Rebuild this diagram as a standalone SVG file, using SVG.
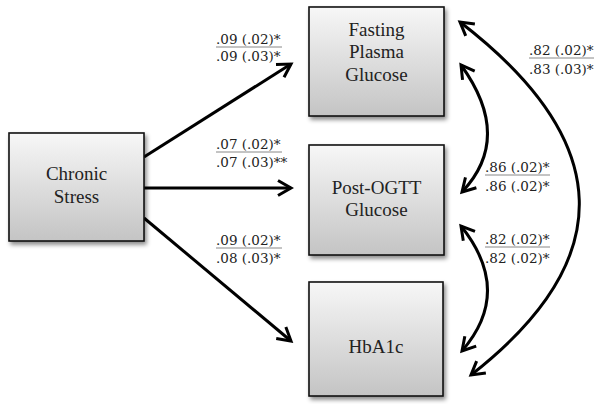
<svg xmlns="http://www.w3.org/2000/svg" width="600" height="404" viewBox="0 0 600 404">
<style>
.box{fill:url(#g);stroke:#111;stroke-width:1.6;filter:url(#sh)}
.nt{font-family:"Liberation Serif","DejaVu Serif",serif;font-size:19px;fill:#222;text-anchor:middle}
.lb{font-family:"DejaVu Serif","Liberation Serif",serif;font-size:13.5px;fill:#222}
.bar{stroke:#888;stroke-width:1}
.ar{fill:none;stroke:#000;stroke-width:3}
.ar.s{marker-end:url(#ah)}
.ar.d{marker-start:url(#ah);marker-end:url(#ah)}
</style>
<defs>
<linearGradient id="g" x1="0" y1="0" x2="0" y2="1">
<stop offset="0" stop-color="#f7f7f7"/>
<stop offset="1" stop-color="#c4c4c4"/>
</linearGradient>
<filter id="sh" x="-10%" y="-10%" width="125%" height="125%">
<feDropShadow dx="2" dy="3" stdDeviation="2" flood-color="#000" flood-opacity="0.45"/>
</filter>
<marker id="ah" markerUnits="userSpaceOnUse" viewBox="-16 -10 20 20" refX="0" refY="0" markerWidth="20" markerHeight="20" orient="auto-start-reverse">
<path d="M-13,-7.5 L0,0 L-13,7.5" fill="none" stroke="#000" stroke-width="3" stroke-linejoin="miter"/>
</marker>
</defs>
<rect width="600" height="404" fill="#fff"/>
<g id="connectors">
<line class="ar s" x1="144" y1="157" x2="291" y2="64"/>
<line class="ar s" x1="144" y1="188" x2="291" y2="188"/>
<line class="ar s" x1="144" y1="218" x2="291" y2="341"/>
<path class="ar d" d="M460,22 Q693,201.5 471,375"/>
<path class="ar d" d="M461,65 Q513.5,137.5 462,192"/>
<path class="ar d" d="M461,226 Q513.5,291.5 462,351"/>
</g>
<g id="chronic-stress">
<rect class="box" x="9" y="133" width="135" height="108"/>
<text class="nt" x="76.5" y="180">Chronic</text>
<text class="nt" x="76.5" y="203">Stress</text>
</g>
<g id="fasting-plasma-glucose">
<rect class="box" x="309" y="7" width="135" height="109"/>
<text class="nt" x="376.5" y="36">Fasting</text>
<text class="nt" x="376.5" y="58">Plasma</text>
<text class="nt" x="376.5" y="81">Glucose</text>
</g>
<g id="post-ogtt-glucose">
<rect class="box" x="309" y="145" width="135" height="110"/>
<text class="nt" x="376.5" y="194">Post-OGTT</text>
<text class="nt" x="376.5" y="216">Glucose</text>
</g>
<g id="hba1c">
<rect class="box" x="309" y="282" width="134" height="114"/>
<text class="nt" x="376" y="353">HbA1c</text>
</g>
<g id="labels">
<text class="lb" x="216" y="44">.09 (.02)*</text>
<line class="bar" x1="216" y1="47" x2="282" y2="47"/>
<text class="lb" x="216" y="61">.09 (.03)*</text>
<text class="lb" x="216" y="149">.07 (.02)*</text>
<line class="bar" x1="216" y1="152" x2="282" y2="152"/>
<text class="lb" x="216" y="167">.07 (.03)**</text>
<text class="lb" x="216" y="245">.09 (.02)*</text>
<line class="bar" x1="216" y1="248" x2="282" y2="248"/>
<text class="lb" x="216" y="263">.08 (.03)*</text>
<text class="lb" x="529" y="55">.82 (.02)*</text>
<line class="bar" x1="529" y1="58" x2="594" y2="58"/>
<text class="lb" x="529" y="74">.83 (.03)*</text>
<text class="lb" x="485" y="172">.86 (.02)*</text>
<line class="bar" x1="485" y1="175" x2="550" y2="175"/>
<text class="lb" x="485" y="191">.86 (.02)*</text>
<text class="lb" x="485" y="244">.82 (.02)*</text>
<line class="bar" x1="485" y1="247" x2="550" y2="247"/>
<text class="lb" x="485" y="263">.82 (.02)*</text>
</g>
</svg>
